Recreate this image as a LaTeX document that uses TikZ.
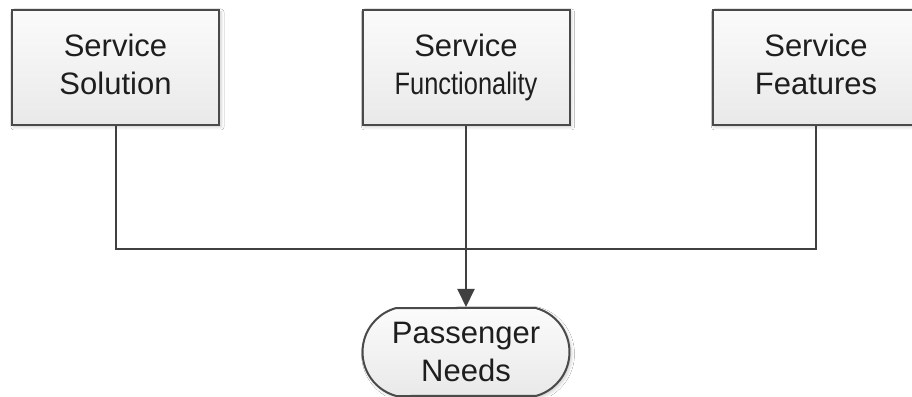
\documentclass[tikz,border=0pt]{standalone}
\usepackage{fontspec}
\usepackage{graphicx}
\setmainfont{Liberation Sans}
\usetikzlibrary{arrows.meta,shapes.misc,shadows.blur}

\definecolor{edgegray}{HTML}{4A4A4A}
\definecolor{wiregray}{HTML}{404040}
\definecolor{inkgray}{HTML}{1E1E1E}
\definecolor{filltop}{HTML}{FBFBFB}
\definecolor{fillbot}{HTML}{E9E9E9}

% keep the second line of every top box at the same depth
\newcommand{\lowline}[1]{#1\vphantom{gy}}

\tikzset{
  x=1pt, y=1pt,
  blockbox/.style={
    draw=edgegray, line width=2pt,
    top color=filltop, bottom color=fillbot,
    minimum width=207pt, minimum height=115pt,
    inner sep=0pt, align=center, text=inkgray,
    font=\fontsize{31}{38}\selectfont,
    blur shadow={shadow xshift=2pt, shadow yshift=-2pt,
                 shadow blur radius=3pt, shadow opacity=20}
  },
  goalbox/.style={
    blockbox, rounded rectangle, rounded rectangle arc length=150,
    minimum width=207pt, minimum height=88pt
  },
  wire/.style={draw=wiregray, line width=2pt}
}

\begin{document}
\begin{tikzpicture}
  \clip (0,0) rectangle (912,396);
  \fill[white] (0,0) rectangle (912,396);

  % three service aspects along the top
  \node[blockbox] (sol)  at (115.5,328.5) {Service\\\lowline{Solution}};
  \node[blockbox] (func) at (466,328.5)   {Service\\\lowline{\scalebox{0.82}[1]{Functionality}}};
  \node[blockbox] (feat) at (816,328.5)   {Service\\\lowline{Features}};

  % the common goal at the bottom
  \node[goalbox] (need) at (466,44) {Passenger\\Needs};

  % bus joining the three aspects
  \coordinate (bus) at (466,146.5);
  \draw[wire] (sol.south) |- (bus) -| (feat.south);
  \draw[wire, -{Triangle[width=17pt,length=18pt]}] (func.south) -- (need.north);
\end{tikzpicture}
\end{document}
